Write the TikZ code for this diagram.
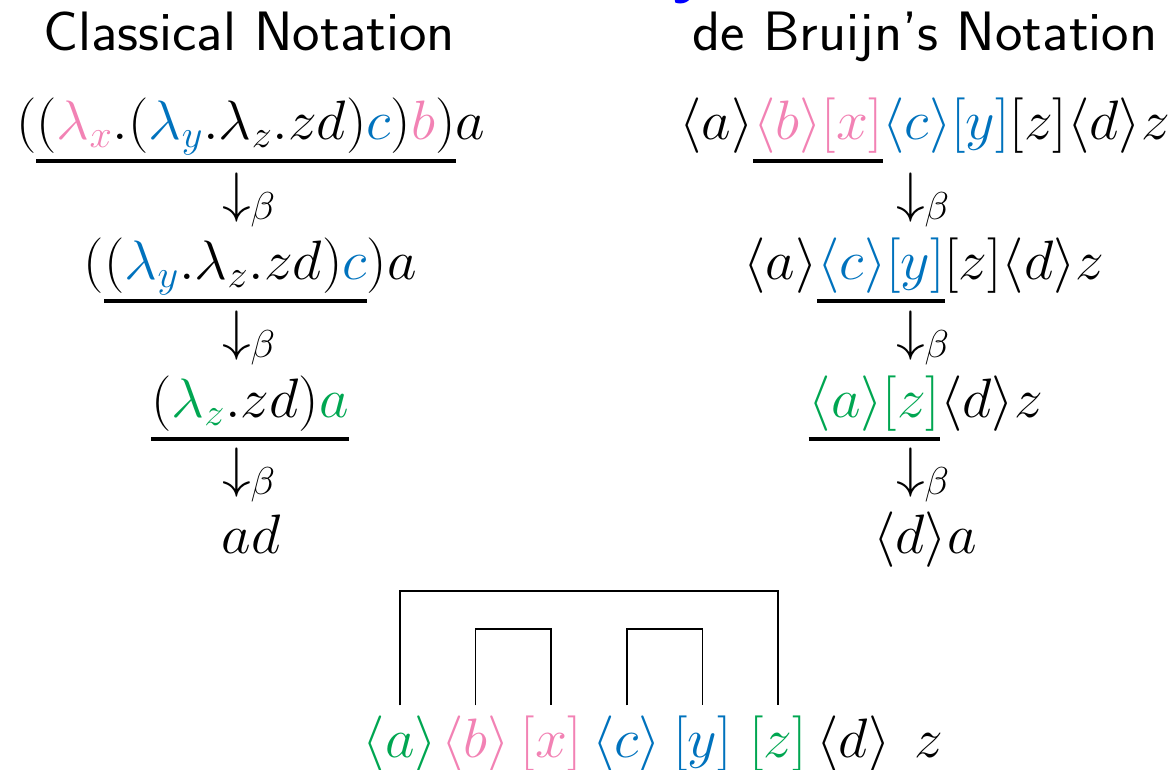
\RequirePackage{fix-cm}
\documentclass[tikz,border=0pt]{standalone}
\usepackage{xcolor}
\usepackage{graphicx}
\usetikzlibrary{positioning}

\definecolor{redexpink}{HTML}{F282B4}
\definecolor{redexblue}{HTML}{0072BD}
\definecolor{redexgreen}{HTML}{00A651}
\newcommand{\pk}[1]{\textcolor{redexpink}{#1}}
\newcommand{\bl}[1]{\textcolor{redexblue}{#1}}
\newcommand{\gr}[1]{\textcolor{redexgreen}{#1}}
\newcommand{\ang}[1]{\langle #1\rangle}
\newcommand{\wide}[1]{\scalebox{1.035}[1]{#1}}

\begin{document}
\begin{tikzpicture}[
    x=0.02cm, y=-0.02cm, font=\fontsize{31.6}{38}\selectfont,
    fm/.style={inner sep=0pt, outer sep=0pt, anchor=base},
    head/.style={fm, font=\fontsize{31.6}{38}\selectfont\sffamily},
    ul/.style={line width=2.3pt},
    link/.style={line width=1pt}]
    \useasboundingbox (0,0) rectangle (1170,769);
    \node[fm, anchor=base west, text=blue, font=\fontsize{40}{48}\selectfont\sffamily\bfseries] (frag) at (672,-11) {y};
    \node[head] (hl) at (249,50) {\scalebox{1.05}[1]{Classical Notation}};
    \node[head] (hr) at (925,50) {\scalebox{1.05}[1]{de Bruijn’s Notation}};
    \node[fm] (l1m) at (246,139) {\wide{$(\pk{\lambda_x}.(\bl{\lambda_y}.\lambda_z.zd)\bl{c})\pk{b})$}};
    \node[fm, base left=0pt of l1m] (l1l) {\wide{$($}};
    \node[fm, base right=0pt of l1m] (l1r) {\wide{$a$}};
    \node[fm] (l2m) at (235.5,279) {\wide{$(\bl{\lambda_y}.\lambda_z.zd)\bl{c}$}};
    \node[fm, base left=0pt of l2m] (l2l) {\wide{$($}};
    \node[fm, base right=0pt of l2m] (l2r) {\wide{$)a$}};
    \node[fm] (l3m) at (250,417) {\wide{$(\gr{\lambda_z}.zd)\gr{a}$}};
    \node[fm] (l4) at (251,553) {\wide{$ad$}};
    \node[fm] (r1m) at (818,139) {\wide{$\pk{\ang{b}[x]}$}};
    \node[fm, base left=0pt of r1m] (r1l) {\wide{$\ang{a}$}};
    \node[fm, base right=0pt of r1m] (r1r) {\wide{$\bl{\ang{c}[y]}[z]\ang{d}z$}};
    \node[fm] (r2m) at (881,279) {\wide{$\bl{\ang{c}[y]}$}};
    \node[fm, base left=0pt of r2m] (r2l) {\wide{$\ang{a}$}};
    \node[fm, base right=0pt of r2m] (r2r) {\wide{$[z]\ang{d}z$}};
    \node[fm] (r3m) at (874.5,417) {\wide{$\gr{\ang{a}[z]}$}};
    \node[fm, base right=0pt of r3m] (r3r) {\wide{$\ang{d}z$}};
    \node[fm] (r4) at (925,553) {\wide{$\ang{d}a$}};
    \foreach \c/\x in {l/222, r/896}
        \foreach \i/\y in {1/211, 2/349, 3/486}
            \node[fm, anchor=base west] (\c a\i) at (\x,\y) {\wide{$\downarrow_\beta$}};
    \foreach \u in {l1m, l2m, l3m, r1m, r2m, r3m}
        \draw[ul] ([yshift=-4.4mm]\u.base west) -- ([yshift=-4.4mm]\u.base east);
    \foreach \nm/\tx [count=\i from 0] in {ba/\gr{\ang{a}}, bb/\pk{\ang{b}}, bx/\pk{[x]}, bc/\bl{\ang{c}}, by/\bl{[y]}, bz/\gr{[z]}, bd/\ang{d}, bw/z}
        \node[fm] (\nm) at (400+75.6*\i,757) {\wide{$\tx$}};
    \foreach \p/\q/\h in {ba/bz/114, bb/bx/76, bc/by/76}
        \draw[link] ([yshift=2mm]\p.north) -- ++(0,-\h) -| ([yshift=2mm]\q.north);
\end{tikzpicture}
\end{document}
